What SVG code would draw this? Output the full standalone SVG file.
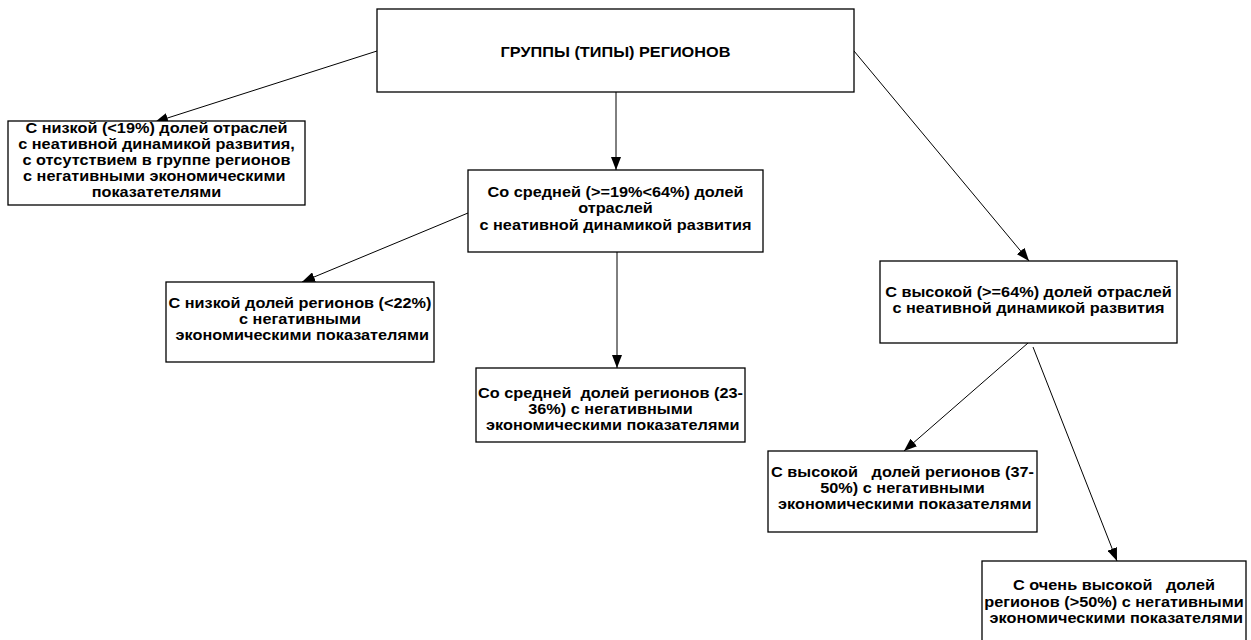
<svg xmlns="http://www.w3.org/2000/svg" width="1251" height="640" viewBox="0 0 1251 640">
<style>
.box{fill:#fff;stroke:#000;stroke-width:1.3}
.t{font-family:"Liberation Sans",Arial,sans-serif;font-weight:bold;font-size:14.4px;fill:#000;text-anchor:middle;white-space:pre}
.c{stroke:#000;stroke-width:1;fill:none;marker-end:url(#ah)}
</style>
<defs>
<marker id="ah" markerUnits="userSpaceOnUse" markerWidth="14" markerHeight="10" refX="13" refY="5" orient="auto">
<path d="M0,0 L13,5 L0,10 Z" fill="#000"/>
</marker>
</defs>
<rect width="1251" height="640" fill="#fff"/>
<g id="connectors">
<line class="c" x1="377" y1="51" x2="155" y2="122"/>
<line class="c" x1="616" y1="92" x2="616" y2="170"/>
<line class="c" x1="854" y1="51" x2="1029" y2="261"/>
<line class="c" x1="468" y1="213" x2="302" y2="282"/>
<line class="c" x1="617" y1="252" x2="617" y2="368"/>
<line class="c" x1="1028" y1="343" x2="904" y2="451"/>
<line class="c" x1="1033" y1="347" x2="1117" y2="561"/>
</g>
<g id="root">
<rect class="box" x="377" y="9" width="477" height="83"/>
<text class="t" transform="translate(615.5 0) scale(1.13 1)" x="0" y="57">ГРУППЫ (ТИПЫ) РЕГИОНОВ</text>
</g>
<g id="low">
<rect class="box" x="8" y="121" width="297" height="84"/>
<text class="t" transform="translate(156.5 0) scale(1.13 1)" xml:space="preserve"><tspan x="0" y="133">С низкой (&lt;19%) долей отраслей</tspan><tspan x="0" y="149">с неативной динамикой развития,</tspan><tspan x="0" y="165">с отсутствием в группе регионов</tspan><tspan x="0" y="181">с негативными экономическими </tspan><tspan x="0" y="197">показатетелями</tspan></text>
</g>
<g id="mid">
<rect class="box" x="468" y="170" width="295" height="82"/>
<text class="t" transform="translate(615.5 0) scale(1.13 1)" xml:space="preserve"><tspan x="0" y="197">Со средней (&gt;=19%&lt;64%) долей</tspan><tspan x="0" y="213">отраслей</tspan><tspan x="0" y="230">с неативной динамикой развития</tspan></text>
</g>
<g id="mid-low">
<rect class="box" x="166" y="282" width="268" height="80"/>
<text class="t" transform="translate(300 0) scale(1.13 1)" xml:space="preserve"><tspan x="0" y="308">С низкой долей регионов (&lt;22%)</tspan><tspan x="0" y="324">с негативными</tspan><tspan x="0" y="340"> экономическими показателями</tspan></text>
</g>
<g id="mid-mid">
<rect class="box" x="476" y="368" width="269" height="74"/>
<text class="t" transform="translate(610.5 0) scale(1.13 1)" xml:space="preserve"><tspan x="0" y="398">Со средней  долей регионов (23-</tspan><tspan x="0" y="414">36%) с негативными</tspan><tspan x="0" y="430"> экономическими показателями</tspan></text>
</g>
<g id="high">
<rect class="box" x="880" y="261" width="297" height="82"/>
<text class="t" transform="translate(1028.5 0) scale(1.13 1)" xml:space="preserve"><tspan x="0" y="297">С высокой (&gt;=64%) долей отраслей</tspan><tspan x="0" y="313">с неативной динамикой развития</tspan></text>
</g>
<g id="high-high">
<rect class="box" x="768" y="451" width="269" height="81"/>
<text class="t" transform="translate(902.5 0) scale(1.13 1)" xml:space="preserve"><tspan x="0" y="477">С высокой   долей регионов (37-</tspan><tspan x="0" y="493">50%) с негативными</tspan><tspan x="0" y="509"> экономическими показателями</tspan></text>
</g>
<g id="high-veryhigh">
<rect class="box" x="982" y="561" width="264" height="82"/>
<text class="t" transform="translate(1114 0) scale(1.13 1)" xml:space="preserve"><tspan x="0" y="590">С очень высокой   долей</tspan><tspan x="0" y="607">регионов (&gt;50%) с негативными</tspan><tspan x="0" y="623"> экономическими показателями</tspan></text>
</g>
</svg>
